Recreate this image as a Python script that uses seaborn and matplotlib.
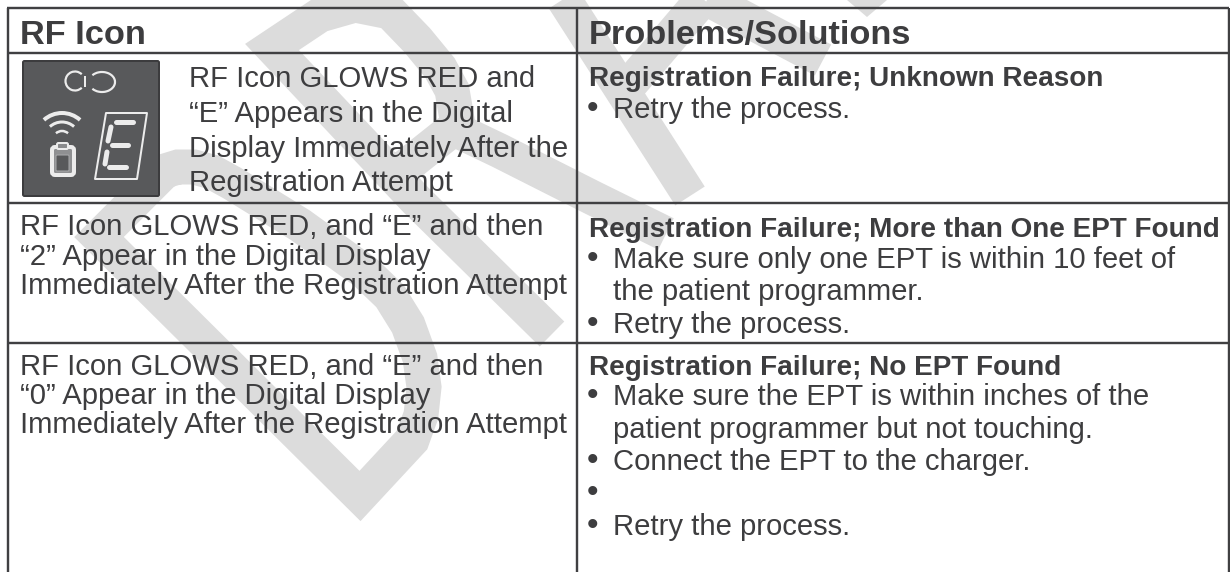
"""
plot.py -- RF icon troubleshooting table with DRAFT watermark.

Run:
    python3 plot.py
"""

import matplotlib
matplotlib.use("Agg")
import matplotlib.pyplot as plt
import seaborn as sns
from matplotlib.patches import Arc, FancyBboxPatch, Polygon

WIDTH, HEIGHT = 1230, 572
DPI = 100

INK = "#3d3d3f"
RULE = "#404042"
WATERMARK = "#dcdcdc"
ICON_BG = "#58595b"
ICON_EDGE = "#3c3c3e"
ICON_FG = "#ececec"

# -- Table content -------------------------------------------------------------

HEADERS = ["RF Icon", "Problems/Solutions"]
HEADER_X = [20, 589]
HEADER_BASE = 44

LEFT_LINES = [
    "RF Icon GLOWS RED and",
    "“E” Appears in the Digital",
    "Display Immediately After the",
    "Registration Attempt",
    "RF Icon GLOWS RED, and “E” and then",
    "“2” Appear in the Digital Display",
    "Immediately After the Registration Attempt",
    "RF Icon GLOWS RED, and “E” and then",
    "“0” Appear in the Digital Display",
    "Immediately After the Registration Attempt",
]
LEFT_X = [189, 189, 189, 189, 20, 20, 20, 20, 20, 20]
LEFT_BASE = [87, 122, 157, 191, 235, 265, 294, 375, 404, 433]

BOLD_LINES = [
    "Registration Failure; Unknown Reason",
    "Registration Failure; More than One EPT Found",
    "Registration Failure; No EPT Found",
]
BOLD_BASE = [86, 237, 375]

BULLET_LINES = [
    "Retry the process.",
    "Make sure only one EPT is within 10 feet of",
    "the patient programmer.",
    "Retry the process.",
    "Make sure the EPT is within inches of the",
    "patient programmer but not touching.",
    "Connect the EPT to the charger.",
    "",
    "Retry the process.",
]
BULLET_FLAG = [True, True, False, True, True, False, True, True, True]
BULLET_BASE = [118, 268, 300, 333, 405, 438, 470, 502, 535]

# -- Table rules (x pair, y pair) ----------------------------------------------

RULES_X = [[7, 1229], [7, 1229], [7, 1229], [7, 1229], [8, 8], [577, 577], [1229, 1229]]
RULES_Y = [[8, 8], [53, 53], [203, 203], [343, 343], [8, 572], [8, 572], [8, 572]]

# -- Watermark strokes ---------------------------------------------------------

D_X = [230, 99, 165, 178, 194, 212, 232, 300, 365, 390, 408, 420, 424, 421, 412, 360, 230]
D_Y = [367, 237, 171, 167, 167, 172, 183, 225, 272, 296, 325, 358, 387, 415, 440, 496, 367]
R_MAIN_X = [552, 416, 272, 320, 355, 390, 417, 440, 452, 458, 395]
R_MAIN_Y = [334, 200, 47, 15, 5, 12, 40, 68, 90, 125, 175]
R_LEG_X = [452, 500, 593, 666]
R_LEG_Y = [128, 151, 198, 234]
A_LEFT_X = [563, 690]
A_LEFT_Y = [-2, 196]
A_RISE_X = [625, 661, 695, 715]
A_RISE_Y = [90, 48, 8, -14]
A_BAR_X = [700, 823]
A_BAR_Y = [-5, 60]
TOP_TIP_X = [847, 887, 867]
TOP_TIP_Y = [0, 0, 17]

STROKES_X = [D_X, R_MAIN_X, R_LEG_X, A_LEFT_X, A_RISE_X, A_BAR_X]
STROKES_Y = [D_Y, R_MAIN_Y, R_LEG_Y, A_LEFT_Y, A_RISE_Y, A_BAR_Y]


def px(value: float) -> float:
    """Pixels to points at the figure dpi."""
    return value * 72 / DPI


def draw_line(ax, xs, ys, color, width, zorder, cap="butt", join="round") -> None:
    sns.lineplot(
        x=xs, y=ys, sort=False, estimator=None, color=color, linewidth=px(width),
        solid_capstyle=cap, solid_joinstyle=join, zorder=zorder, ax=ax,
    )


def draw_icon(ax) -> None:
    ax.add_patch(FancyBboxPatch((23, 61), 136, 135, boxstyle="round,pad=0,rounding_size=1.5",
                                fc=ICON_BG, ec=ICON_EDGE, lw=px(2), zorder=4))

    # link glyph
    ax.add_patch(Arc((75, 81), 19, 19, theta1=45, theta2=315, ec=ICON_FG, lw=px(2.2), zorder=5))
    ax.add_patch(Arc((102, 82), 26, 20, theta1=-145, theta2=145, ec=ICON_FG, lw=px(2.2), zorder=5))
    draw_line(ax, [85, 85], [76, 87], ICON_FG, 2, 5)

    # wireless waves
    for r, lw in zip([27, 18, 9], [4, 3, 2.5]):
        ax.add_patch(Arc((62, 140), 2 * r, 2 * r, theta1=228, theta2=312, ec=ICON_FG, lw=px(lw), zorder=5))

    # EPT body
    ax.add_patch(FancyBboxPatch((52, 147), 22, 28, boxstyle="round,pad=0,rounding_size=3",
                                fc="#8f9092", ec=ICON_FG, lw=px(4), zorder=5))
    ax.add_patch(FancyBboxPatch((57, 143), 11, 6, boxstyle="round,pad=0,rounding_size=1.5",
                                fc="#8a8b8d", ec=ICON_FG, lw=px(2), zorder=6))
    ax.add_patch(FancyBboxPatch((56, 155), 13, 16, boxstyle="round,pad=0,rounding_size=1",
                                fc=ICON_BG, ec="#a8a9ab", lw=px(1), zorder=6))

    # seven-segment digit showing E
    ax.add_patch(Polygon([(106, 113), (147, 113), (137, 179), (95, 179)], closed=True,
                         fc=ICON_BG, ec=ICON_FG, lw=px(2), joinstyle="round", zorder=5))
    draw_line(ax, [116, 133], [122, 122], ICON_FG, 5, 6, cap="round")
    draw_line(ax, [112, 128], [145, 145], ICON_FG, 5, 6, cap="round")
    draw_line(ax, [109, 126], [167, 167], ICON_FG, 5, 6, cap="round")
    draw_line(ax, [111, 108], [127, 141], ICON_FG, 5, 6, cap="round")
    draw_line(ax, [107, 105], [152, 164], ICON_FG, 5, 6, cap="round")


def main() -> None:
    sns.set_theme(style="white")
    plt.rcParams["font.family"] = ["Liberation Sans", "DejaVu Sans"]

    fig, ax = plt.subplots(figsize=(WIDTH / DPI, HEIGHT / DPI), dpi=DPI)
    ax.set_position([0, 0, 1, 1])

    for xs, ys in zip(STROKES_X, STROKES_Y):
        draw_line(ax, xs, ys, WATERMARK, 35, 1, join="miter")
    ax.add_patch(Polygon(list(zip(TOP_TIP_X, TOP_TIP_Y)), closed=True, fc=WATERMARK, ec="none", zorder=1))

    for xs, ys in zip(RULES_X, RULES_Y):
        draw_line(ax, xs, ys, RULE, 2.4, 3)

    draw_icon(ax)

    header_size = px(34.4)
    bold_size = px(27.9)
    body_size = px(29.3)

    for label, x in zip(HEADERS, HEADER_X):
        ax.text(x, HEADER_BASE, label, fontsize=header_size, fontweight="bold",
                color=INK, va="baseline", zorder=7)
    for line, x, y in zip(LEFT_LINES, LEFT_X, LEFT_BASE):
        ax.text(x, y, line, fontsize=body_size, color=INK, va="baseline", zorder=7)
    for line, y in zip(BOLD_LINES, BOLD_BASE):
        ax.text(589, y, line, fontsize=bold_size, fontweight="bold", color=INK, va="baseline", zorder=7)
    for line, flag, y in zip(BULLET_LINES, BULLET_FLAG, BULLET_BASE):
        if flag:
            ax.text(587, y, "•", fontsize=px(33), color=INK, va="baseline", zorder=7)
        if line:
            ax.text(613, y, line, fontsize=body_size, color=INK, va="baseline", zorder=7)

    ax.set_xlim(0, WIDTH)
    ax.set_ylim(HEIGHT, 0)
    ax.axis("off")
    sns.despine(ax=ax, left=True, bottom=True)

    fig.savefig("out.png", dpi=DPI, facecolor="white")


if __name__ == "__main__":
    main()
